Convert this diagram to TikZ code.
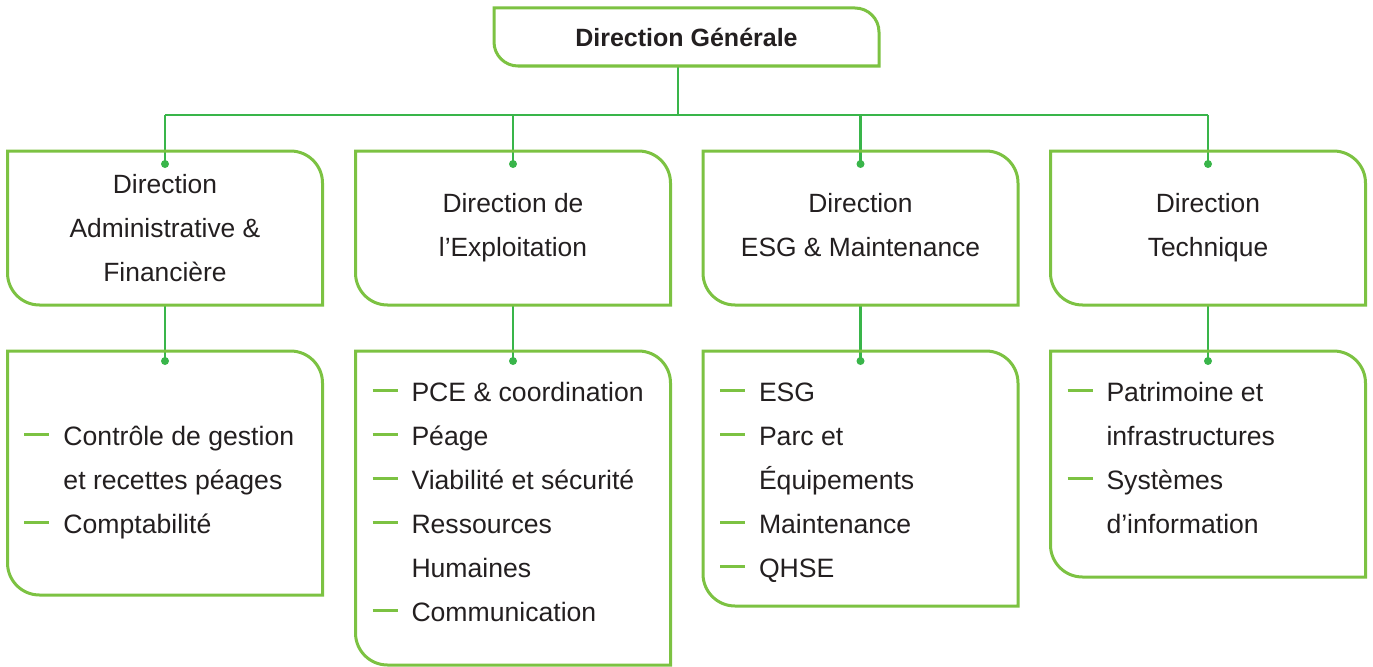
\documentclass[tikz,border=0pt]{standalone}
\usepackage{fontspec}
\setmainfont{Liberation Sans}
\usetikzlibrary{calc}

\definecolor{leafgreen}{RGB}{124,194,66}
\definecolor{linkgreen}{RGB}{57,181,74}
\definecolor{inkgrey}{RGB}{35,31,32}

% outline with round top-right and bottom-left corners
\newcommand{\leafline}[2]{%
  \draw[leafgreen, line width=1.5pt] (#1.north west) -- ($(#1.north east)+(-#2,0)$)
    arc[start angle=90, end angle=0, radius=#2] -- (#1.south east)
    -- ($(#1.south west)+(#2,0)$) arc[start angle=270, end angle=180, radius=#2] -- cycle;}
\newcommand{\itemdash}{\textcolor{leafgreen}{\rule[4.5pt]{12.5pt}{1.75pt}}\hspace{7pt}}
\newcommand{\itemgap}{\hspace*{19.5pt}}

\tikzset{
  unit/.style={inner sep=0pt, outer sep=0pt, text=inkgrey},
  head/.style={unit, minimum width=157.5pt, minimum height=77pt, align=center,
    font=\fontsize{13.2}{22}\selectfont},
  list/.style={unit, anchor=north west, align=left, font=\fontsize{13.3}{22}\selectfont},
  link/.style={linkgreen, line width=1.4pt},
}

\begin{document}
\begin{tikzpicture}[x=0.5pt, y=0.5pt]
\useasboundingbox (0,0) rectangle (1373,666);

% boxes
\node[unit, minimum width=192.5pt, minimum height=29pt, font=\bfseries\fontsize{12.5}{15}\selectfont]
  (dg) at (686.5,629) {Direction Générale};

\node[head] (daf) at (165,438) {Direction\\Administrative \&\\Financière};
\node[head] (dex) at (513,438) {Direction de\\l’Exploitation};
\node[head] (desg) at (860.5,438) {Direction\\ESG \& Maintenance\vphantom{p}};
\node[head] (dt) at (1208,438) {Direction\\Technique};

\node[unit, minimum width=157.5pt, minimum height=122pt] (dafbox) at (165,193) {};
\node[unit, minimum width=157.5pt, minimum height=157pt] (dexbox) at (513,158) {};
\node[unit, minimum width=157.5pt, minimum height=127.5pt] (desgbox) at (860.5,187.5) {};
\node[unit, minimum width=157.5pt, minimum height=113pt] (dtbox) at (1208,202) {};

% lists
\node[list] (daflist) at (24.5,241) {\rule{0pt}{10pt}\itemdash Contrôle de gestion\\
  \itemgap et recettes péages\\ \itemdash Comptabilité};
\node[list] (dexlist) at (372.5,285) {\rule{0pt}{10pt}\itemdash PCE \& coordination\\
  \itemdash Péage\\ \itemdash Viabilité et sécurité\\ \itemdash Ressources\\
  \itemgap Humaines\\ \itemdash Communication};
\node[list] (desglist) at (720,285) {\rule{0pt}{10pt}\itemdash ESG\\ \itemdash Parc et\\
  \itemgap Équipements\\ \itemdash Maintenance\\ \itemdash QHSE};
\node[list] (dtlist) at (1067.5,285) {\rule{0pt}{10pt}\itemdash Patrimoine et\\
  \itemgap infrastructures\\ \itemdash Systèmes\\ \itemgap d’information};

% connectors
\coordinate (bus) at (0,551);
\coordinate (dg-foot) at ($(dg.south)+(-8.5,0)$);
\draw[link] (dg-foot) -- (dg-foot |- bus);
\draw[link] (daf.north |- bus) -- (dt.north |- bus);
\foreach \n in {daf,dex,desg,dt} {
  \coordinate (\n-dot) at ($(\n.north)+(0,-13)$);
  \coordinate (\n box-dot) at ($(\n box.north)+(0,-10)$);
  \draw[link] (\n.north |- bus) -- (\n-dot);
  \draw[link] (\n.south) -- (\n box-dot);
}

% outlines
\leafline{dg}{12pt}
\foreach \n in {daf,dex,desg,dt} {
  \leafline{\n}{16pt}
  \leafline{\n box}{16pt}
  \fill[linkgreen] (\n-dot) circle (2pt);
  \fill[linkgreen] (\n box-dot) circle (2pt);
}
\end{tikzpicture}
\end{document}
